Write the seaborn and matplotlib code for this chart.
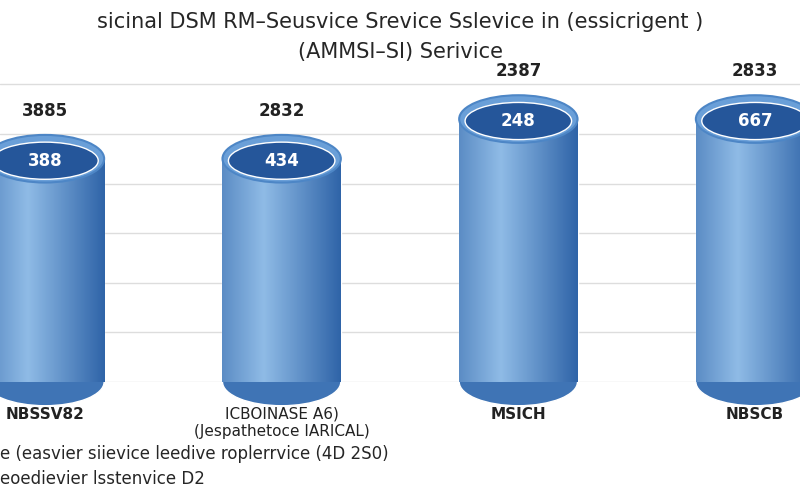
import matplotlib
matplotlib.use("Agg")
import matplotlib.pyplot as plt
import seaborn as sns
import numpy as np
import pandas as pd
from matplotlib.patches import Ellipse

categories = ["NBSSV82", "ICBOINASE A6)\n(Jespathetoce IARICAL)", "MSICH", "NBSCB"]
heights = [2250, 2250, 2650, 2650]
top_labels = ["3885", "2832", "2387", "2833"]
inner_labels = ["388", "434", "248", "667"]

sns.set_theme(style="whitegrid")
fig = plt.figure(figsize=(8, 4.96), dpi=100)
ax = fig.add_axes([0, 0.23, 1, 0.66])
df = pd.DataFrame({"cat": categories, "val": heights})
sns.barplot(data=df, x="cat", y="val", ax=ax, color="#4a86c5", width=0.5, saturation=1)
ax.set_xlim(-0.19, 3.19)
ax.set_ylim(0, 3300)
ax.set_xlabel(""); ax.set_ylabel("")
ax.set_yticklabels([]); ax.set_xticklabels([])
ax.tick_params(length=0)
for s in ax.spines.values():
    s.set_visible(False)
ax.grid(axis="x", visible=False)
ax.grid(axis="y", color="#dddddd")

grad = np.linspace(0, 1, 256)
grad = np.abs(grad - 0.35)
grad = np.vstack([grad, grad])
cmap = matplotlib.colors.LinearSegmentedColormap.from_list("c", ["#8fbbe6", "#2f64a8"])
for i, p in enumerate(ax.patches):
    x0, w, h = p.get_x(), p.get_width(), p.get_height()
    im = ax.imshow(grad, extent=[x0, x0 + w, 0, h], aspect="auto", cmap=cmap, zorder=3)
    im.set_clip_path(p)
    eh = 480
    e = Ellipse((x0 + w/2, 0), w, eh, facecolor="#3f74b5", zorder=2.9, clip_on=False)
    ax.add_patch(e)
    ax.add_patch(Ellipse((x0 + w/2, h), w, eh, facecolor="#6a9fd8", edgecolor="#4d86c6", lw=1.5, zorder=4, clip_on=False))
    ax.add_patch(Ellipse((x0 + w/2, h - 20), w*0.9, eh*0.78, facecolor="#25569a", zorder=4.1, clip_on=False))
    ax.text(x0 + w/2, h - 20, inner_labels[i], ha="center", va="center", color="white",
            fontsize=12, fontweight="bold", zorder=5)
    ax.text(x0 + w/2, h + 480, top_labels[i], ha="center", va="center", color="#222222",
            fontsize=12, fontweight="bold", zorder=5)
    ax.text(x0 + w/2, -250, categories[i], ha="center", va="top", color="#222222",
            fontsize=11, fontweight="bold" if i != 1 else "normal", zorder=5)

fig.text(0.5, 0.955, "sicinal DSM RM–Seusvice Srevice Sslevice in (essicrigent )",
         ha="center", va="center", fontsize=15)
fig.text(0.5, 0.895, "(AMMSI–SI) Serivice", ha="center", va="center", fontsize=15)
fig.text(0.0, 0.085, "e (easvier siievice leedive roplerrvice (4D 2S0)", ha="left", va="center", fontsize=12)
fig.text(0.0, 0.035, "eoedievier lsstenvice D2", ha="left", va="center", fontsize=12)
fig.savefig("out.png", dpi=100)
